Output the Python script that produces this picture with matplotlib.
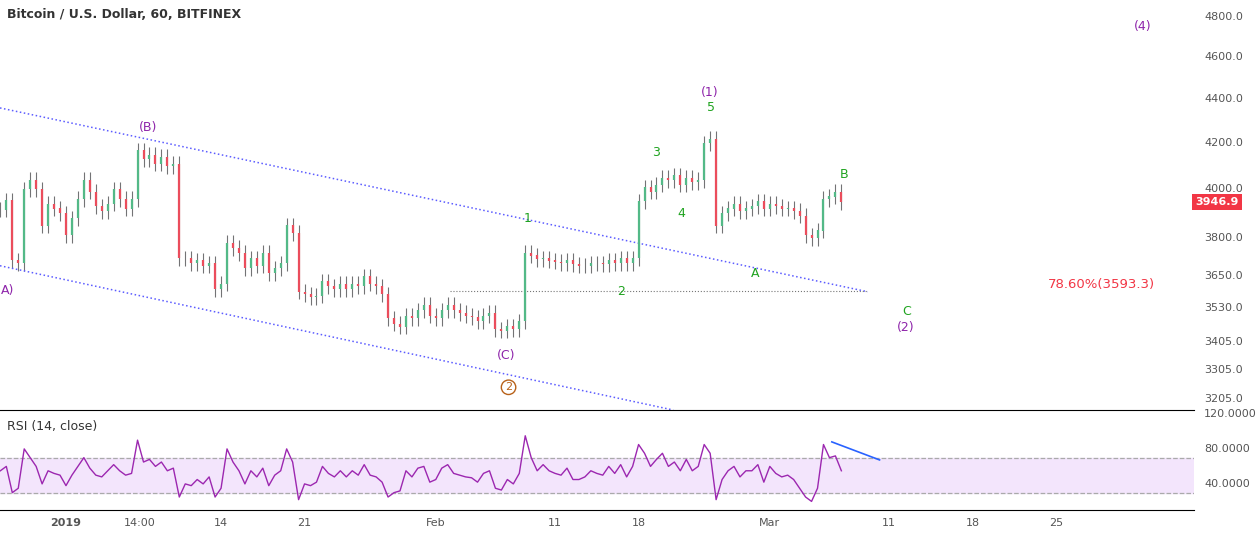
import numpy as np
import matplotlib.pyplot as plt

# 12-hour closes (BTC/USD, Bitfinex), starting 26.5 Dec 2018
closes = [3915, 3955, 3712, 3700, 4000, 4040, 4000, 3850, 3940, 3920, 3900,
          3810, 3880, 3960, 4040, 3990, 3930, 3910, 3940, 4000, 3960, 3920,
          3960, 4170, 4130, 4150, 4110, 4140, 4100, 4110, 3720, 3720, 3700,
          3710, 3690, 3700, 3600, 3620, 3780, 3760, 3740, 3680, 3720, 3690,
          3740, 3660, 3680, 3700, 3850, 3820, 3590, 3580, 3570, 3575, 3630,
          3610, 3600, 3620, 3600, 3620, 3610, 3650, 3620, 3610, 3580, 3490,
          3470, 3460, 3500, 3490, 3520, 3540, 3500, 3490, 3520, 3540, 3520,
          3510, 3500, 3495, 3480, 3500, 3510, 3450, 3445, 3460, 3450, 3480,
          3740, 3730, 3715, 3720, 3710, 3705, 3700, 3710, 3695, 3690, 3690,
          3700, 3700, 3695, 3710, 3700, 3720, 3700, 3720, 3950, 4010, 3990,
          4020, 4050, 4040, 4060, 4020, 4050, 4030, 4040, 4200, 4220, 3850,
          3900, 3920, 3940, 3910, 3920, 3930, 3950, 3920, 3940, 3930, 3920,
          3920, 3910, 3890, 3810, 3800, 3830, 3960, 3970, 3990, 3947]
rsi = [55, 60, 30, 35, 80, 70, 60, 40, 55, 52, 50,
       38, 50, 60, 70, 58, 50, 48, 55, 62, 55, 50,
       52, 90, 65, 68, 60, 65, 55, 58, 25, 40, 38,
       45, 40, 48, 25, 35, 80, 65, 55, 40, 55, 48,
       58, 38, 50, 55, 80, 65, 22, 40, 38, 42, 60,
       52, 48, 55, 48, 55, 50, 62, 50, 48, 42, 25,
       30, 32, 55, 48, 58, 60, 42, 45, 58, 62, 52,
       50, 48, 47, 42, 52, 55, 35, 33, 45, 40, 52,
       95, 70, 55, 62, 55, 52, 50, 58, 45, 45, 48,
       55, 52, 50, 60, 52, 62, 48, 60, 85, 75, 60,
       68, 75, 60, 65, 55, 68, 55, 60, 85, 75, 22,
       45, 55, 60, 48, 55, 55, 62, 42, 60, 52, 48,
       50, 45, 35, 25, 20, 35, 85, 70, 72, 55]
start_day = -5.5
step = 0.5

price_ticks = [3205, 3305, 3405, 3530, 3650, 3800, 4000, 4200, 4400, 4600, 4800]
date_pos = [0, 6.2, 13, 20, 31, 41, 48, 59, 69, 76, 83]
date_labels = ['2019', '14:00', '14', '21', 'Feb', '11', '18', 'Mar', '11', '18', '25']

# wave labels: (text, day, price, colour)
purple = '#8e24aa'
green = '#1fa31f'
waves = [('(B)', 6.9, 4270, purple), ('A)', -4.9, 3595, purple),
         ('(C)', 36.9, 3355, purple), ('(1)', 54.0, 4434, purple),
         ('(2)', 70.4, 3455, purple), ('(4)', 90.3, 4750, purple),
         ('1', 38.7, 3880, green), ('2', 46.5, 3590, green),
         ('3', 49.5, 4160, green), ('4', 51.6, 3900, green),
         ('5', 54.1, 4360, green), ('A', 57.8, 3660, green),
         ('B', 65.2, 4065, green), ('C', 70.5, 3515, green)]

n = min(len(closes), len(rsi))
days = start_day + step * np.arange(n)
opens = [closes[0]] + closes[:n - 1]

fig = plt.figure(figsize=(12.6, 5.37), dpi=100)
ax = fig.add_axes([0, 0.2365, 0.948, 0.7635])
ax2 = fig.add_axes([0, 0.050, 0.948, 0.1825], sharex=ax)

up, dn, wick = '#53b987', '#eb4d5c', '#737375'
for d, o, c in zip(days, opens, closes[:n]):
    lo, hi = min(o, c), max(o, c)
    ax.vlines(d, lo * 0.992, hi * 1.008, color=wick, lw=0.8, zorder=2)
    ax.vlines(d, lo, hi + 0.5, color=up if c >= o else dn, lw=1.6, zorder=3)

ax.set_yscale('log')
ax.set_ylim(3168, 4887)
ax.set_xlim(-5.53, 94.6)

# channel
ax.plot([-5.53, 67.2], [4360, 3590], ls=':', color='#5c5cff', lw=1.1)
ax.plot([-5.53, 50.9], [3690, 3168], ls=':', color='#5c5cff', lw=1.1)
ax.plot([32.2, 67.2], [3593.3, 3593.3], ls=':', color='#777777', lw=0.8)
ax.text(82.3, 3593.3, '78.60%(3593.3)', color='#f23645', fontsize=9.5,
        ha='left', va='bottom')

for t, d, p, col in waves:
    ax.text(d, p, t, color=col, fontsize=9, ha='center', va='center')
ax.text(37.1, 3245, '2', color='#b8621a', fontsize=8, ha='center', va='center',
        bbox=dict(boxstyle='circle,pad=0.2', fc='white', ec='#b8621a', lw=1))

ax.text(0.006, 0.965, 'Bitcoin / U.S. Dollar, 60, BITFINEX', transform=ax.transAxes,
        fontsize=9, color='#333333', weight='bold', va='center')

for s in ['top', 'left', 'right']:
    ax.spines[s].set_visible(False)
ax.spines['bottom'].set_color('black')
ax.set_yticks([])
ax.minorticks_off()
ax.tick_params(axis='x', bottom=False, labelbottom=False)
for p in price_ticks:
    ax.text(1.008, p, f'{p:.1f}', transform=ax.get_yaxis_transform(), fontsize=8,
            color='#555555', va='center', clip_on=False)
ax.text(1.001, 3946.9, '3946.9', transform=ax.get_yaxis_transform(), fontsize=8,
        color='white', weight='bold', va='center', clip_on=False,
        bbox=dict(boxstyle='square,pad=0.3', fc='#f23645', ec='none'))

# RSI panel
ax2.set_ylim(10, 122)
ax2.axhspan(30, 70, color='#f3e5fc', zorder=0)
ax2.axhline(70, ls='--', color='#aaaaaa', lw=0.9)
ax2.axhline(30, ls='--', color='#aaaaaa', lw=0.9)
ax2.plot(days, rsi[:n], color='#9c27b0', lw=1)
ax2.plot([64.2, 68.2], [88, 67.4], color='#2962ff', lw=1.2)
ax2.text(0.006, 0.85, 'RSI (14, close)', transform=ax2.transAxes, fontsize=9,
         color='#333333', va='center')
for s in ['top', 'left', 'right']:
    ax2.spines[s].set_visible(False)
ax2.set_yticks([])
for v in [120, 80, 40]:
    ax2.text(1.008, v, f'{v:.4f}', transform=ax2.get_yaxis_transform(), fontsize=8,
             color='#555555', va='center', clip_on=False)
ax2.set_xticks(date_pos)
ax2.set_xticklabels(date_labels, fontsize=8, color='#555555')
ax2.get_xticklabels()[0].set_fontweight('bold')
ax2.tick_params(axis='x', length=0, pad=6)
ax2.set_facecolor('none')

fig.savefig('out.png', dpi=100)
